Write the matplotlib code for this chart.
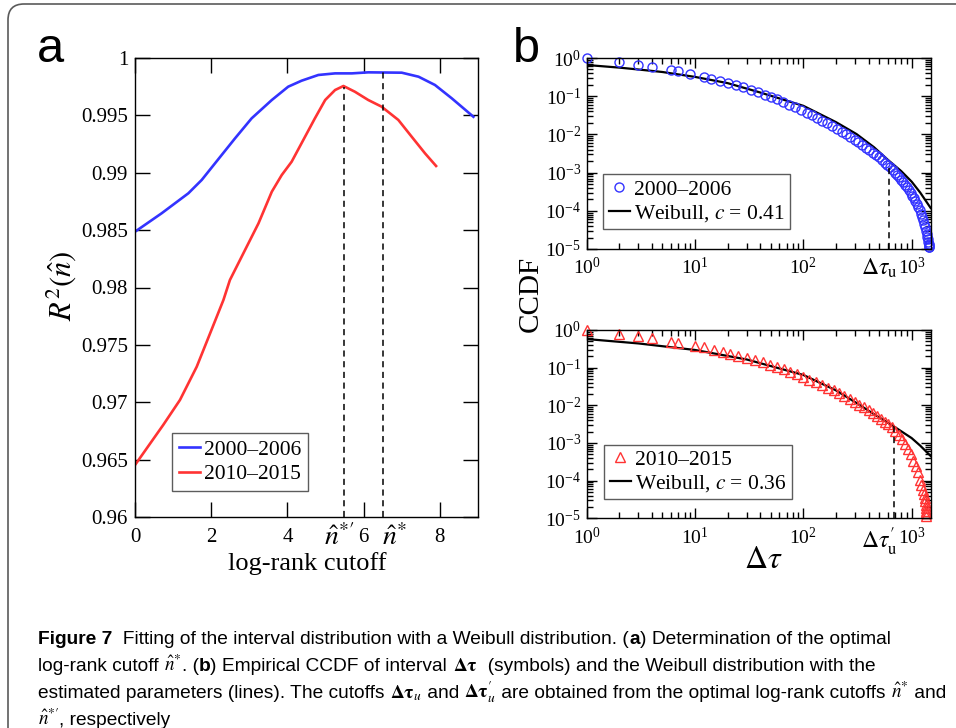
import numpy as np
import matplotlib
matplotlib.use("Agg")
import matplotlib.pyplot as plt
from matplotlib import font_manager
from matplotlib.patches import FancyBboxPatch
from matplotlib.ticker import LogLocator, NullFormatter
from matplotlib.transforms import blended_transform_factory

# panel a: R^2 vs log-rank cutoff
cut_blue = [0, 0.70, 1.40, 1.75, 2.275, 2.625, 3.06, 3.59, 4.02, 4.37, 4.81, 5.25, 5.69,
            6.12, 7.0, 7.44, 7.87, 8.31, 8.88]
r2_blue = [0.98486, 0.98647, 0.98821, 0.98937, 0.99155, 0.99300, 0.99474, 0.99634,
           0.99750, 0.99802, 0.99852, 0.99866, 0.99866, 0.99875, 0.99872, 0.99837,
           0.99765, 0.99649, 0.99488]
cut_red = [0, 0.74, 1.18, 1.62, 1.97, 2.32, 2.49, 2.93, 3.24, 3.59, 3.85, 4.11, 4.37,
           4.72, 4.99, 5.25, 5.47, 5.77, 6.12, 6.47, 6.91, 7.26, 7.61, 7.90]
r2_red = [0.96453, 0.96802, 0.9702, 0.9731, 0.9760, 0.97891, 0.98065, 0.98355, 0.98559,
          0.98835, 0.9898, 0.99096, 0.99257, 0.99474, 0.99634, 0.99721, 0.99756, 0.99706,
          0.99634, 0.99576, 0.99460, 0.99314, 0.99169, 0.99059]
n_star_prime, r2_at_n_star_prime = 5.49, 0.9975
n_star, r2_at_n_star = 6.51, 0.99878

# panel b top: 2000-2006
tau_0006 = [1, 2, 3, 4, 6, 7, 9, 12, 14, 17, 20, 24, 28, 33, 38, 44, 50, 57, 65, 74, 84,
            95, 107, 120, 134, 150, 167, 185, 205, 226, 248, 272, 297, 323, 350, 378, 407,
            437, 468, 500, 532, 565, 598, 632, 666, 700, 735, 770, 805, 840, 875, 910,
            945, 980, 1015, 1050, 1085, 1120, 1155, 1190, 1225, 1255, 1282, 1310, 1335,
            1360, 1380, 1396, 1410, 1425, 1438, 1448, 1456, 1460]
ccdf_0006 = [1.0, 0.77, 0.66, 0.59, 0.49, 0.455, 0.39, 0.32, 0.285, 0.25, 0.225, 0.196,
             0.170, 0.148, 0.128, 0.110, 0.095, 0.082, 0.070, 0.060, 0.051, 0.044, 0.037,
             0.032, 0.027, 0.023, 0.0195, 0.0165, 0.014, 0.0119, 0.0101, 0.0086, 0.0073,
             0.0062, 0.0053, 0.0045, 0.0038, 0.0033, 0.0029, 0.0025, 0.0021, 0.0018,
             0.0016, 0.0014, 0.00118, 0.0010, 0.00088, 0.00076, 0.00065, 0.00056,
             0.00048, 0.00041, 0.00035, 0.00030, 0.00025, 0.00021, 0.000178, 0.000150,
             0.000125, 0.000103, 8.4e-5, 6.9e-5, 5.8e-5, 4.6e-5, 3.7e-5, 2.9e-5, 2.4e-5,
             2.1e-5, 1.8e-5, 1.55e-5, 1.38e-5, 1.25e-5, 1.15e-5, 1.1e-5]
fit_tau_0006 = [1, 2, 3, 5, 10, 20, 40, 100, 200, 310, 450, 610, 800, 1000, 1200, 1500]
fit_ccdf_0006 = [0.656, 0.56, 0.50, 0.43, 0.32, 0.22, 0.125, 0.056, 0.021, 0.0102,
                 0.0046, 0.0021, 0.0011, 0.00058, 0.00030, 0.000118]
tau_u, ccdf_at_tau_u = 614, 1.45e-3

# panel b bottom: 2010-2015
tau_1015 = [1, 2, 3, 4, 6, 7, 10, 12, 15, 18, 21, 25, 30, 36, 42, 49, 57, 66, 76, 87,
            100, 114, 130, 148, 168, 190, 214, 240, 268, 298, 330, 364, 400, 438, 478,
            520, 564, 610, 658, 708, 760, 814, 870, 928, 988, 1040, 1090, 1140, 1190,
            1230, 1265, 1295, 1320, 1335, 1345, 1352, 1356, 1358, 1360]
ccdf_1015 = [1.0, 0.80, 0.69, 0.61, 0.48, 0.46, 0.376, 0.36, 0.29, 0.26, 0.226, 0.204,
             0.18, 0.157, 0.138, 0.12, 0.104, 0.09, 0.077, 0.066, 0.056, 0.048, 0.041,
             0.035, 0.0295, 0.025, 0.021, 0.0177, 0.0149, 0.0125, 0.0105, 0.0088, 0.0074,
             0.0062, 0.0052, 0.0044, 0.0037, 0.0031, 0.0026, 0.0021, 0.0016, 0.00125,
             0.00095, 0.00070, 0.00050, 0.00034, 0.00024, 0.000165, 0.000105, 7.5e-5,
             5.6e-5, 4.3e-5, 3.4e-5, 2.8e-5, 2.3e-5, 1.9e-5, 1.6e-5, 1.35e-5, 1.15e-5]
fit_tau_1015 = [1, 3, 10, 30, 100, 200, 310, 450, 692, 1000, 1200, 1500]
fit_ccdf_1015 = [0.575, 0.44, 0.295, 0.165, 0.064, 0.025, 0.0115, 0.0058, 0.0027,
                 0.00135, 0.00085, 0.00045]
tau_u_prime, ccdf_at_tau_u_prime = 692, 2.8e-3

BLUE = "#3333ff"
RED = "#ff3333"

plt.rcParams["font.family"] = "Liberation Serif"
plt.rcParams["mathtext.fontset"] = "stix"

fig = plt.figure(figsize=(9.56, 7.28), dpi=100)
W, H = 956.0, 728.0


def fig_rect(left, top, right, bottom):
    return [left / W, 1 - bottom / H, (right - left) / W, (bottom - top) / H]


# rounded frame around the whole figure
frame = FancyBboxPatch((0.08, -0.3), 9.8, 7.54, boxstyle="round,pad=0,rounding_size=0.16",
                       transform=fig.dpi_scale_trans, facecolor="none",
                       edgecolor="#5a5a5a", lw=1.2)
fig.patches.append(frame)

# ---------------- panel a ----------------
axa = fig.add_axes(fig_rect(135, 58, 478, 517))
axa.plot(cut_blue, r2_blue, color=BLUE, lw=1.9, label="2000–2006")
axa.plot(cut_red, r2_red, color=RED, lw=1.9, label="2010–2015")
axa.plot([n_star_prime, n_star_prime], [0.96, r2_at_n_star_prime], color="k", lw=1.1,
         ls=(0, (4, 3)))
axa.plot([n_star, n_star], [0.96, r2_at_n_star], color="k", lw=1.1, ls=(0, (4, 3)))
axa.set_xlim(0, 9)
axa.set_ylim(0.96, 1.0)
axa.set_xticks([0, 2, 4, 6, 8])
axa.set_xticklabels(["0", "2", "4", "6", "8"])
axa.set_xticks([5.35, 6.8], minor=True)
axa.set_xticklabels([r"$\hat{n}^{*\prime}$", r"$\hat{n}^{*}$"], minor=True)
yt = [0.96, 0.965, 0.97, 0.975, 0.98, 0.985, 0.99, 0.995, 1.0]
axa.set_yticks(yt)
axa.set_yticklabels(["0.96", "0.965", "0.97", "0.975", "0.98", "0.985", "0.99", "0.995", "1"])
axa.tick_params(which="major", direction="in", top=True, right=True, length=11,
                width=1.0, labelsize=15)
axa.tick_params(which="minor", length=0, labelsize=20)
axa.tick_params(axis="x", which="major", pad=8)
axa.tick_params(axis="x", which="minor", pad=5)
axa.tick_params(axis="y", pad=5)
for s in axa.spines.values():
    s.set_linewidth(1.0)
leg = axa.legend(loc="lower left", bbox_to_anchor=(0.108, 0.057), borderaxespad=0,
                 fancybox=False, edgecolor="#333333", fontsize=15.5, handlelength=1.0,
                 handletextpad=0.2, borderpad=0.3, labelspacing=0.2)
leg.get_frame().set_linewidth(1.0)

fig.text(307 / W, 1 - 570 / H, "log-rank cutoff", ha="center", va="baseline", fontsize=19)
fig.text(61 / W, 1 - 286 / H, r"$R^2(\hat{n})$", rotation=90, ha="center", va="center",
         fontsize=22)
fig.text(37 / W, 1 - 62 / H, "a", family="Liberation Sans", fontsize=35, va="baseline")


# ---------------- panel b ----------------
def style_log_axes(ax):
    ax.set_xscale("log")
    ax.set_yscale("log")
    ax.set_xlim(1, 1500)
    ax.set_ylim(1e-5, 1)
    ax.xaxis.set_major_locator(LogLocator(base=10, numticks=10))
    ax.xaxis.set_minor_locator(LogLocator(base=10, subs=np.arange(2, 10), numticks=100))
    ax.yaxis.set_major_locator(LogLocator(base=10, numticks=10))
    ax.yaxis.set_minor_locator(LogLocator(base=10, subs=np.arange(2, 10), numticks=100))
    ax.xaxis.set_minor_formatter(NullFormatter())
    ax.yaxis.set_minor_formatter(NullFormatter())
    ax.tick_params(which="both", direction="in", top=True, right=True, width=1.0)
    ax.tick_params(which="major", length=7, labelsize=14)
    ax.tick_params(which="minor", length=4)
    ax.tick_params(axis="x", pad=6)
    ax.tick_params(axis="y", pad=4)
    for s in ax.spines.values():
        s.set_linewidth(1.0)


axb1 = fig.add_axes(fig_rect(586.7, 58, 930.7, 249))
style_log_axes(axb1)
l1, = axb1.plot(fit_tau_0006, fit_ccdf_0006, color="k", lw=1.6, label=r"Weibull, $c$ = 0.41")
m1, = axb1.plot(tau_0006, ccdf_0006, ls="none", marker="o", ms=6.5, mfc="none", mec=BLUE,
                mew=1.0, clip_on=False, label="2000–2006")
axb1.plot([tau_u, tau_u], [1e-5, ccdf_at_tau_u], color="k", lw=1.1, ls=(0, (4, 3)))
lg1 = axb1.legend([m1, l1], [m1.get_label(), l1.get_label()], loc="lower left",
                  bbox_to_anchor=(0.048, 0.103), borderaxespad=0, fancybox=False,
                  edgecolor="#333333", fontsize=15.5, handlelength=1.0, handletextpad=0.2,
                  borderpad=0.25, labelspacing=0.15, numpoints=1)
lg1.get_frame().set_linewidth(1.0)
tb = blended_transform_factory(axb1.transData, axb1.transAxes)
axb1.text(745, -0.04, r"$\Delta\tau_{\rm u}$", transform=tb, ha="right", va="top",
          fontsize=17)

axb2 = fig.add_axes(fig_rect(586.7, 330, 930.7, 518.3))
style_log_axes(axb2)
l2, = axb2.plot(fit_tau_1015, fit_ccdf_1015, color="k", lw=1.6, label=r"Weibull, $c$ = 0.36")
m2, = axb2.plot(tau_1015, ccdf_1015, ls="none", marker="^", ms=7, mfc="none", mec=RED,
                mew=1.0, clip_on=False, label="2010–2015")
axb2.plot([tau_u_prime, tau_u_prime], [1e-5, ccdf_at_tau_u_prime], color="k", lw=1.1,
          ls=(0, (4, 3)))
lg2 = axb2.legend([m2, l2], [m2.get_label(), l2.get_label()], loc="lower left",
                  bbox_to_anchor=(0.051, 0.10), borderaxespad=0, fancybox=False,
                  edgecolor="#333333", fontsize=15.5, handlelength=1.0, handletextpad=0.2,
                  borderpad=0.25, labelspacing=0.15, numpoints=1)
lg2.get_frame().set_linewidth(1.0)
tb2 = blended_transform_factory(axb2.transData, axb2.transAxes)
axb2.text(745, -0.04, r"$\Delta\tau_{\rm u}'$", transform=tb2, ha="right", va="top",
          fontsize=17)

fig.text(531 / W, 1 - 294 / H, "CCDF", rotation=90, ha="center", va="center", fontsize=21)
fig.text(763 / W, 1 - 568 / H, r"$\Delta\tau$", ha="center", va="baseline", fontsize=23)
fig.text(513 / W, 1 - 62 / H, "b", family="Liberation Sans", fontsize=35, va="baseline")

# ---------------- caption ----------------
cap_family = "Liberation Sans Narrow"
try:
    font_manager.findfont(font_manager.FontProperties(family=cap_family),
                          fallback_to_default=False)
    cap_size = 14.5
except ValueError:
    cap_family = "Liberation Sans"
    cap_size = 13.8

reg = dict(family=cap_family, fontsize=cap_size, math_fontfamily="stix")
bold = dict(family=cap_family, fontsize=cap_size, weight="bold", math_fontfamily="stix")

caption_lines = [
    [("Figure 7", bold), ("  Fitting of the interval distribution with a Weibull distribution. (", reg),
     ("a", bold), (") Determination of the optimal", reg)],
    [("log-rank cutoff ", reg), (r"$\hat{n}^{*}$", reg), (". (", reg), ("b", bold),
     (") Empirical CCDF of interval ", reg), (r"$\mathbf{\Delta\tau}$", reg),
     ("  (symbols) and the Weibull distribution with the", reg)],
    [("estimated parameters (lines). The cutoffs ", reg), (r"$\mathbf{\Delta\tau}_u$", reg),
     (" and ", reg), (r"$\mathbf{\Delta\tau}_u'$", reg),
     (" are obtained from the optimal log-rank cutoffs ", reg), (r"$\hat{n}^{*}$", reg),
     (" and", reg)],
    [(r"$\hat{n}^{*\prime}$", reg), (", respectively", reg)],
]
baselines = [644, 671, 698, 725]

renderer = fig.canvas.get_renderer()
for pieces, yb in zip(caption_lines, baselines):
    x = 38 / W
    for txt, kw in pieces:
        t = fig.text(x, 1 - yb / H, txt, va="baseline", ha="left", **kw)
        x += t.get_window_extent(renderer).width / fig.bbox.width

fig.savefig("out.png", dpi=100)
